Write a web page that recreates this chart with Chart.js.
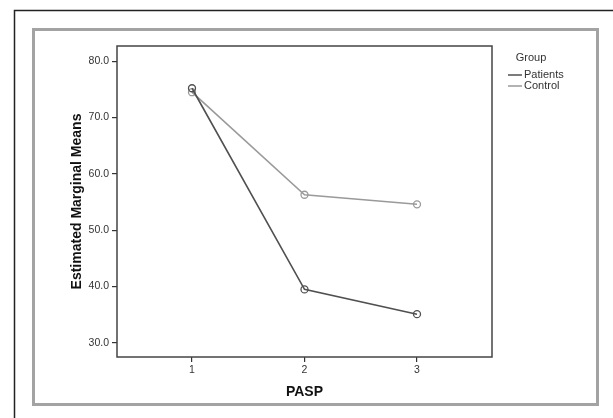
<!DOCTYPE html>
<html>
<head>
<meta charset="utf-8">
<script src="https://cdn.jsdelivr.net/npm/chart.js@4"></script>
<style>
  html, body { margin: 0; padding: 0; background: #fff; }
  #wrap { width: 613px; height: 418px; }
</style>
</head>
<body>
<div id="wrap"><canvas id="chart" width="613" height="418"></canvas></div>
<script>
// PASP levels and estimated marginal means per group
const pasp = [1, 2, 3];
const patients = [75.2, 39.5, 35.1];
const control = [74.5, 56.3, 54.6];
const yTicks = [30, 40, 50, 60, 70, 80];
const groupTitle = 'Group';
const seriesLabels = ['Patients', 'Control'];
const seriesColors = ['#505050', '#9a9a9a'];

const FONT = 'Arial, "Liberation Sans", sans-serif';

// Frames (outer black box, grey panel, plot frame) and the SPSS-style legend.
const decorations = {
  id: 'decorations',
  beforeDraw(chart) {
    const { ctx } = chart;
    ctx.save();
    ctx.fillStyle = '#fff';
    ctx.fillRect(0, 0, chart.width, chart.height);
    ctx.strokeStyle = '#222';
    ctx.lineWidth = 1.5;
    ctx.strokeRect(14.5, 10.5, 640, 440);
    ctx.strokeStyle = '#a3a3a3';
    ctx.lineWidth = 3;
    ctx.strokeRect(33.5, 29.5, 564, 375);
    ctx.restore();
  },
  afterDatasetsDraw(chart) {
    const { ctx, chartArea: a } = chart;
    ctx.save();
    ctx.strokeStyle = '#444';
    ctx.lineWidth = 1.5;
    ctx.strokeRect(a.left, a.top, a.right - a.left, a.bottom - a.top);

    ctx.font = '11px ' + FONT;
    ctx.fillStyle = '#333';
    ctx.textBaseline = 'middle';
    ctx.textAlign = 'center';
    ctx.fillText(groupTitle, 531, 58);
    ctx.textAlign = 'left';
    chart.data.datasets.forEach((ds, i) => {
      const y = 75 + i * 11;
      ctx.strokeStyle = ds.borderColor;
      ctx.lineWidth = 1.5;
      ctx.beginPath();
      ctx.moveTo(508, y);
      ctx.lineTo(522, y);
      ctx.stroke();
      ctx.fillText(ds.label, 524, y);
    });
    ctx.restore();
  },
};

const tickFont = { family: FONT, size: 10.5 };
const titleFont = { family: FONT, size: 14, weight: 'bold' };

new Chart(document.getElementById('chart'), {
  type: 'line',
  data: {
    datasets: [
      {
        label: seriesLabels[0],
        data: pasp.map((x, i) => ({ x, y: patients[i] })),
        borderColor: seriesColors[0],
        borderWidth: 1.6,
        pointRadius: 3.5,
        pointBorderWidth: 1.3,
        pointBackgroundColor: 'rgba(255,255,255,0)',
        pointBorderColor: seriesColors[0],
        tension: 0,
      },
      {
        label: seriesLabels[1],
        data: pasp.map((x, i) => ({ x, y: control[i] })),
        borderColor: seriesColors[1],
        borderWidth: 1.6,
        pointRadius: 3.5,
        pointBorderWidth: 1.3,
        pointBackgroundColor: 'rgba(255,255,255,0)',
        pointBorderColor: seriesColors[1],
        tension: 0,
      },
    ],
  },
  options: {
    responsive: false,
    animation: false,
    layout: { padding: { left: 0, top: 46, right: 121, bottom: 0 } },
    plugins: { legend: { display: false }, tooltip: { enabled: false } },
    scales: {
      x: {
        type: 'linear',
        min: 1 / 3,
        max: 11 / 3,
        afterBuildTicks: (s) => { s.ticks = pasp.map((v) => ({ value: v })); },
        afterFit: (s) => { s.height = 61; },
        border: { display: false },
        grid: { display: true, drawOnChartArea: false, drawTicks: true, tickLength: 5, color: '#333', lineWidth: 1.2 },
        ticks: { color: '#333', font: tickFont, padding: 2, callback: (v) => String(v) },
        title: { display: true, text: 'PASP', color: '#111', font: titleFont, padding: { top: 0, bottom: 17 } },
      },
      y: {
        min: 27.5,
        max: 82.7,
        afterBuildTicks: (s) => { s.ticks = yTicks.map((v) => ({ value: v })); },
        afterFit: (s) => { s.width = 117; },
        border: { display: false },
        grid: { display: true, drawOnChartArea: false, drawTicks: true, tickLength: 5, color: '#333', lineWidth: 1.2 },
        ticks: { color: '#333', font: tickFont, padding: 3, callback: (v) => Number(v).toFixed(1) },
        title: { display: true, text: 'Estimated Marginal Means', color: '#111', font: titleFont, padding: { top: 69, bottom: 0 } },
      },
    },
  },
  plugins: [decorations],
});
</script>
</body>
</html>
